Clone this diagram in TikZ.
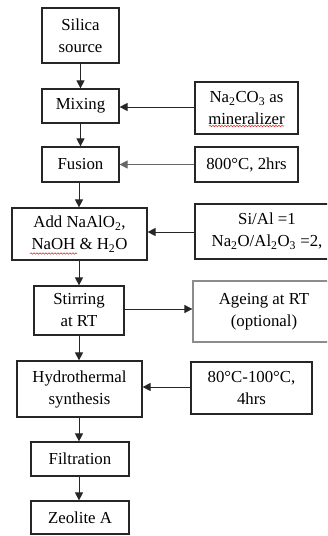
\documentclass[tikz,border=0pt]{standalone}
\usepackage{fontspec}
\setmainfont{Liberation Serif}
\usetikzlibrary{arrows.meta, positioning, decorations.pathmorphing}
\definecolor{cline}{HTML}{262626}
\definecolor{cgrey}{HTML}{8C8C8C}
\definecolor{cred}{HTML}{E03030}
\tikzset{
  every picture/.style={font=\fontsize{16.8}{22}\selectfont, line width=1.2pt},
  box/.style={draw=#1, rectangle, align=center, inner sep=0pt},
  box/.default=cline,
  arrow/.style={-{Triangle[length=8pt, width=8pt]}, draw=cline, line width=1pt},
  spell/.style={draw=cred, line width=0.6pt, decorate, decoration={snake, amplitude=0.7pt, segment length=3pt}},
}
\newcommand{\sub}[1]{\textsubscript{#1}}

\begin{document}
\begin{tikzpicture}[x=1pt, y=-1pt,
    step1/.style={box, minimum width=77, minimum height=34},
    side/.style={box, minimum width=103},
  ]
  \clip (0,0) rectangle (327,536);

  % ---- main column
  \node[box, minimum width=77, minimum height=55] (sil) at (80.5,35.5) {Silica\\source};
  \node[step1] (mix)  at (80.5,106)   {Mixing};
  \node[step1, minimum height=35] (fus) at (80.5,164.5) {Fusion};
  \node[box, minimum width=135, minimum height=52] (add) at (79.5,234)
    {Add NaAlO\sub{2},\\NaOH \& H\sub{2}O};
  \node[box, minimum width=90, minimum height=49] (stir) at (79,310.5) {Stirring\\at RT};
  \node[box, minimum width=125, minimum height=56] (hyd) at (79.5,389) {Hydrothermal\\synthesis};
  \node[box, minimum width=98, minimum height=34] (fil) at (80,459)   {Filtration};
  \node[box, minimum width=98, minimum height=33] (zeo) at (80,517.5) {Zeolite A};

  % ---- conditions
  \node[side, minimum height=52] (soda) at (246.5,108)  {Na\sub{2}CO\sub{3} as\\mineralizer};
  \node[side, minimum height=35] (temp) at (246.5,164.5) {800°C, 2hrs};
  \node[box, minimum width=144, minimum height=55] (ratio) at (267,231.5)
    {Si/Al =1\\Na\sub{2}O/Al\sub{2}O\sub{3} =2,};
  \node[box=cgrey, minimum width=142, minimum height=61] (age) at (264,311.5)
    {Ageing at RT\\(optional)};
  \node[box, minimum width=121, minimum height=52] (hot) at (251.5,388) {80°C-100°C,\\4hrs};

  % ---- flow
  \draw[arrow] (sil) -- (mix);
  \draw[arrow] (mix) -- (fus);
  \draw[arrow] (fus.south -| 79,0) -- (add.north -| 79,0);
  \draw[arrow] (add.south -| 79,0) -- (stir.north -| 79,0);
  \draw[arrow] (stir.south -| 79,0) -- (hyd.north -| 79,0);
  \draw[arrow] (hyd.south -| 79,0) -- (fil.north -| 79,0);
  \draw[arrow] (fil.south -| 79,0) -- (zeo.north -| 79,0);

  \draw[arrow] (soda.west |- 0,107) -- (mix.east |- 0,107);
  \draw[arrow, draw=cline!70] (temp.west) -- (fus.east);
  \draw[arrow] (ratio.west |- 0,232) -- (add.east |- 0,232);
  \draw[arrow, line width=0.7pt] (stir.east |- 0,309) -- (age.west |- 0,309);
  \draw[arrow] (hot.west |- 0,387) -- (hyd.east |- 0,387);

  % spell-check marks
  \draw[spell] (209,126) -- (284,126);
  \draw[spell] (30,253.5) -- (77,253.5);
\end{tikzpicture}
\end{document}
